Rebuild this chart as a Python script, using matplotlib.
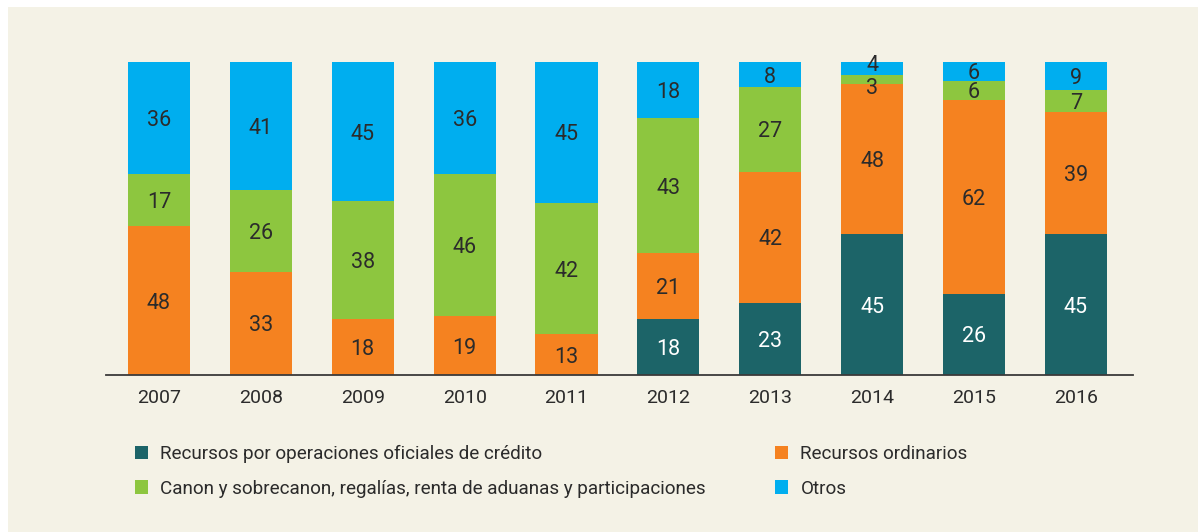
import numpy as np
import matplotlib.pyplot as plt
from matplotlib.patches import Rectangle, Patch

# shares per year (%)
years = ['2007', '2008', '2009', '2010', '2011', '2012', '2013', '2014', '2015', '2016']
credito = [0, 0, 0, 0, 0, 18, 23, 45, 26, 45]
ordinarios = [48, 33, 18, 19, 13, 21, 42, 48, 62, 39]
canon = [17, 26, 38, 46, 42, 43, 27, 3, 6, 7]
otros = [36, 41, 45, 36, 45, 18, 8, 4, 6, 9]

names = ['Recursos por operaciones oficiales de crédito', 'Recursos ordinarios',
         'Canon y sobrecanon, regalías, renta de aduanas y participaciones', 'Otros']
colors = ['#1c6468', '#f58220', '#8dc63f', '#00aeef']
txtcol = ['#ffffff', '#2b2b2b', '#2b2b2b', '#2b2b2b']

plt.rcParams['font.family'] = ['Roboto', 'DejaVu Sans']

fig = plt.figure(figsize=(11.98, 5.32), dpi=100)
fig.patch.set_facecolor('white')
# beige panel behind the chart
fig.patches.append(Rectangle((8 / 1198, 0), 1, 1 - 7 / 532, transform=fig.transFigure,
                             facecolor='#f4f2e6', edgecolor='none', zorder=-5))

ax = fig.add_axes([106 / 1198, 1 - 375 / 532, (1133 - 106) / 1198, (375 - 62) / 532])
ax.set_zorder(2)
ax.patch.set_alpha(0)

series = np.array([credito, ordinarios, canon, otros], dtype=float)
shares = series / series.sum(axis=0) * 100  # rounded values don't always add to 100
x = np.arange(len(years))
bottom = np.zeros(len(years))
for k in range(4):
    ax.bar(x, shares[k], 0.61, bottom=bottom, color=colors[k], zorder=2)
    for i in range(len(years)):
        if series[k, i] > 0:
            y = bottom[i] + shares[k, i] / 2
            # thin slices: push the labels apart so they don't collide
            if series[k, i] < 5:
                y += 1.8 if k == 3 else -2.2
            ax.text(x[i], y, '%d' % series[k, i], ha='center', va='center_baseline',
                    fontsize=15.5, color=txtcol[k], zorder=3)
    bottom += shares[k]

ax.set_xlim(-0.52, 9.56)
ax.set_ylim(0, 100)
ax.set_xticks(x)
ax.set_xticklabels(years, fontsize=14, color='#2b2b2b')
ax.tick_params(axis='x', length=0, pad=10)
ax.set_yticks([])
for s in ['top', 'left', 'right']:
    ax.spines[s].set_visible(False)
ax.spines['bottom'].set_color('#3a3a3a')
ax.spines['bottom'].set_linewidth(1.3)

# two legend columns placed by hand
def legend_col(idx, xpix):
    handles = [Patch(facecolor=colors[j], edgecolor='none') for j in idx]
    leg = fig.legend(handles, [names[j] for j in idx], loc='upper left',
                     bbox_to_anchor=(xpix / 1198, 1 - 445 / 532), frameon=False,
                     borderpad=0, borderaxespad=0, handlelength=0.7, handleheight=0.7,
                     handletextpad=0.65, labelspacing=0.88,
                     prop={'size': 13.6})
    for t in leg.get_texts():
        t.set_color('#2b2b2b')

legend_col([0, 2], 135)
legend_col([1, 3], 775)

fig.savefig('out.png', dpi=100)
